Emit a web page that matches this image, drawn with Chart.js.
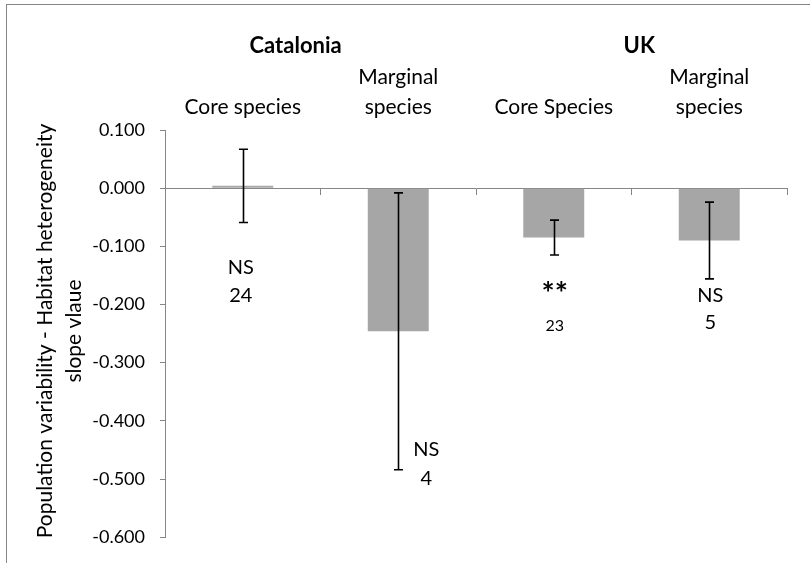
<!DOCTYPE html>
<html>
<head>
<meta charset="utf-8">
<script src="https://cdn.jsdelivr.net/npm/chart.js@4"></script>
<style>
  html, body { margin: 0; padding: 0; background: #ffffff; }
  #wrap { width: 810px; height: 563px; position: relative; }
</style>
</head>
<body>
<div id="wrap"><canvas id="chart" width="810" height="563"></canvas></div>
<script>
// Slope of population variability against habitat heterogeneity
const categories = ['Core species', 'Marginal species', 'Core Species', 'Marginal species'];
const categoryLines = [['Core species'], ['Marginal', 'species'], ['Core Species'], ['Marginal', 'species']];
const regions = ['Catalonia', 'UK'];
const slopes = [0.004, -0.246, -0.085, -0.090];
const slopeErrors = [0.063, 0.238, 0.030, 0.066];
const significance = ['NS', 'NS', '**', 'NS'];
const sampleSizes = ['24', '4', '23', '5'];
const yTicks = [0.1, 0, -0.1, -0.2, -0.3, -0.4, -0.5, -0.6];
const yTitle = ['Population variability - Habitat heterogeneity', 'slope vlaue'];

const FONT = 'Lato, "Open Sans", sans-serif';
const AXIS_GREY = '#868686';

Chart.defaults.font.family = FONT;
Chart.defaults.color = '#000000';

// Standard error whiskers drawn on top of each bar
const errorBars = {
  id: 'errorBars',
  afterDatasetsDraw(chart) {
    const meta = chart.getDatasetMeta(0);
    const y = chart.scales.y;
    const c = chart.ctx;
    c.save();
    c.strokeStyle = '#000000';
    c.lineWidth = 1.6;
    meta.data.forEach((bar, i) => {
      const top = y.getPixelForValue(slopes[i] + slopeErrors[i]);
      const bot = y.getPixelForValue(slopes[i] - slopeErrors[i]);
      const x = Math.round(bar.x) + 0.5;
      c.beginPath();
      c.moveTo(x, top); c.lineTo(x, bot);
      c.moveTo(x - 4.5, top); c.lineTo(x + 4.5, top);
      c.moveTo(x - 4.5, bot); c.lineTo(x + 4.5, bot);
      c.stroke();
    });
    c.restore();
  }
};

// Headers, significance notes, axis title and outer frame
const annotations = {
  id: 'annotations',
  afterDraw(chart) {
    const c = chart.ctx;
    const x = chart.scales.x;
    const y = chart.scales.y;
    const cx = i => x.getPixelForValue(i);
    const step = cx(1) - cx(0);
    c.save();

    // outer frame (continues past the canvas on the right and bottom)
    c.strokeStyle = AXIS_GREY;
    c.lineWidth = 1;
    c.strokeRect(6.5, 4.5, 900, 700);

    c.fillStyle = '#000000';
    c.textAlign = 'center';
    c.textBaseline = 'middle';

    // region headers
    c.font = 'bold 22px ' + FONT;
    c.fillText(regions[0], cx(0) + 0.34 * step, 46);
    c.fillText(regions[1], cx(2) + 0.55 * step, 46);

    // category headers, bottom row aligned
    c.font = '21px ' + FONT;
    categoryLines.forEach((lines, i) => {
      lines.forEach((t, k) => {
        const row = lines.length - 1 - k;
        c.fillText(t, cx(i), 107 - row * 30);
      });
    });

    // significance and sample size notes
    const place = [
      { dx: -2, a: -0.137, b: -0.185 },
      { dx: 28, a: -0.450, b: -0.499 },
      { dx: 1, a: -0.171, b: -0.236 },
      { dx: 1, a: -0.185, b: -0.231 }
    ];
    place.forEach((p, i) => {
      const px = cx(i) + p.dx;
      if (significance[i] === '**') {
        c.font = 'bold 31px ' + FONT;
        c.fillText(significance[i], px, y.getPixelForValue(p.a) + 6);
        c.font = '16px ' + FONT;
      } else {
        c.font = '20px ' + FONT;
        c.fillText(significance[i], px, y.getPixelForValue(p.a));
      }
      c.fillText(sampleSizes[i], px, y.getPixelForValue(p.b));
    });

    // rotated axis title
    c.font = '21px ' + FONT;
    const midY = 331;
    [45, 74].forEach((tx, k) => {
      c.save();
      c.translate(tx, midY);
      c.rotate(-Math.PI / 2);
      c.fillText(yTitle[k], 0, 0);
      c.restore();
    });

    c.restore();
  }
};

new Chart(document.getElementById('chart'), {
  type: 'bar',
  data: {
    labels: categories,
    datasets: [{
      data: slopes,
      backgroundColor: '#A6A6A6',
      borderWidth: 0,
      categoryPercentage: 1,
      barPercentage: 0.392
    }]
  },
  options: {
    responsive: false,
    animation: false,
    devicePixelRatio: 1,
    layout: { padding: { top: 130, right: 23, bottom: 14, left: 0 } },
    plugins: { legend: { display: false }, tooltip: { enabled: false }, title: { display: false } },
    scales: {
      x: {
        position: { y: 0 },
        grid: { display: true, drawOnChartArea: false, drawTicks: true, tickLength: 6, offset: true, color: AXIS_GREY },
        border: { display: true, color: AXIS_GREY, width: 1 },
        ticks: { display: false }
      },
      y: {
        min: -0.6,
        max: 0.1,
        afterFit(scale) { scale.width = 165; },
        afterBuildTicks(scale) { scale.ticks = yTicks.map(v => ({ value: v })); },
        grid: { drawOnChartArea: false, tickLength: 5, color: AXIS_GREY },
        border: { color: AXIS_GREY, width: 1 },
        ticks: {
          padding: 15,
          color: '#000000',
          font: { size: 18 },
          callback: v => Number(v).toFixed(3)
        }
      }
    }
  },
  plugins: [errorBars, annotations]
});
</script>
</body>
</html>
